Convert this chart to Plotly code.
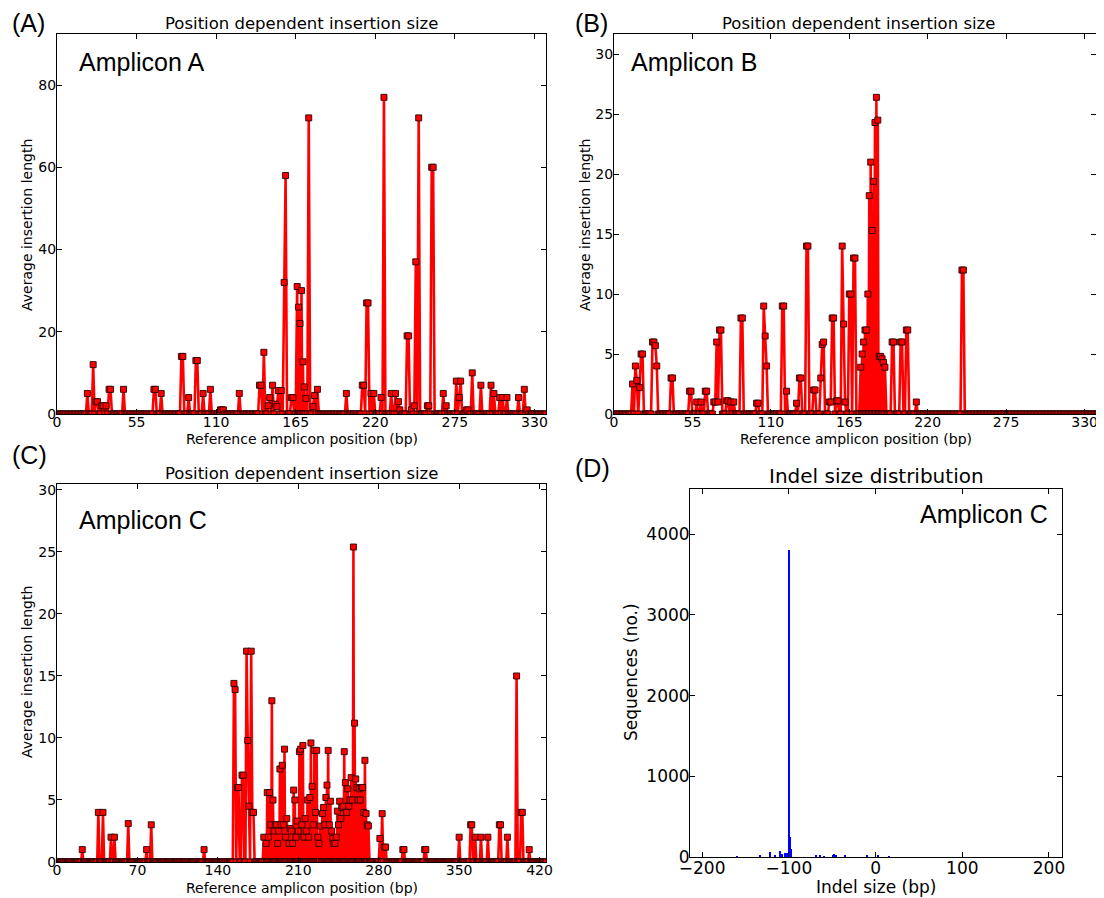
import plotly.graph_objects as go

# The page body has an 8 px margin; the figure is placed to compensate for it.
OFF = 8
W, H = 1104 - OFF, 898 - OFF

# ---------------- Data ----------------
# Panel A: amplicon A, positions with non-zero average insertion length
a_length = 338
a_pos = [21, 25, 27, 28, 31, 32, 34, 36, 37, 46, 67, 68, 72, 86, 87, 91, 96, 97, 101, 106,
         113, 114, 115, 126, 140, 141, 143, 146, 147, 149, 151, 152, 153, 155, 157, 158,
         162, 163, 166, 167, 168, 169, 170, 171, 172, 174, 177, 178, 180, 200, 211, 212,
         214, 215, 217, 219, 224, 226, 231, 234, 236, 237, 242, 243, 245, 247, 248, 250,
         256, 257, 259, 260, 267, 269, 276, 278, 279, 283, 284, 287, 293, 300, 302, 306,
         308, 311, 319, 323, 325]
a_val = [5, 12, 3, 3, 2, 2, 2, 6, 6, 6, 6, 6, 5, 14, 14, 4, 13, 13, 5, 6,
         1, 1, 1, 5, 7, 7, 15, 2, 4, 7, 2.4, 1.8, 5.7, 5.7, 32, 58,
         4, 4, 31, 26, 22, 30, 12.7, 6.6, 3.8, 72, 1.8, 4.5, 6, 5, 7, 7,
         27, 27, 5, 5, 4, 77, 5, 5, 3, 1, 19, 19, 1, 2, 37, 72,
         2, 2, 60, 60, 5, 2, 8, 4, 8, 1, 1, 10, 7, 7, 5, 4,
         4, 4, 4, 6, 1]
# points inside the dense cluster where the trace drops back to the baseline
a_drop_pos = [166.5, 167.5, 168.5, 169.5, 170.5, 171.5]

# Panel B: amplicon B
b_length = 341
b_pos = [13, 15, 16, 18, 19, 20, 27, 28, 29, 30, 40, 41, 53, 54, 58, 61, 64, 65, 70, 71,
         72, 73, 74, 75, 79, 80, 82, 84, 89, 90, 100, 101, 105, 106, 107, 118, 119, 121,
         128, 130, 131, 135, 136, 140, 141, 145, 146, 147, 151, 152, 153, 154, 156, 157,
         160, 161, 162, 165, 166, 168, 169, 173, 174, 175, 176, 177, 178, 179, 180, 181,
         182, 183, 184, 185, 186, 187, 188, 189, 190, 195, 196, 201, 202, 205, 206, 212,
         244, 245]
b_val = [2.5, 4, 2.8, 2.2, 5, 5, 6, 6, 5.7, 4, 3, 3, 1.9, 1.9, 1, 1, 1.9, 1.9, 1, 1,
         6, 1, 7, 7, 1.1, 1.1, 1, 1, 8, 8, 0.9, 0.9, 9, 6.5, 4, 9, 9, 1.9,
         0.9, 3, 3, 14, 14, 2, 2, 3, 5.8, 6, 1, 1, 8, 8, 1.1, 1.1,
         14, 7.5, 1, 10, 10, 13, 13, 3.9, 5, 6, 7, 7, 10, 18.2, 21, 15.3,
         19.4, 24.3, 26.4, 24.5, 4.8, 4.8, 4.6, 4.3, 3.9, 6, 6, 6, 6, 7, 7, 1,
         12, 12]
b_drop_pos = [173.5, 174.5, 175.5, 176.5, 177.5, 178.5, 179.5, 180.5, 181.5, 182.5,
              183.5, 184.5, 185.5, 186.5, 187.5, 188.5, 189.5]

# Panel C: amplicon C
c_length = 426
c_pos = [22, 36, 40, 47, 50, 62, 78, 82, 128, 154, 155, 157, 158, 161, 162, 165, 166, 167,
         169, 170, 171,
         180, 182, 183, 184, 185, 186, 187, 188, 189, 190, 191, 192, 193, 194, 195, 196, 197,
         198, 199, 200, 202, 203, 204, 205, 206, 207, 208, 209, 210, 211, 212, 213, 214, 215,
         216, 217, 218, 219, 220, 221, 222, 223, 224, 225, 226, 227, 228, 229, 231, 232, 233,
         234, 235, 236, 237, 238, 239, 240, 241, 242, 243, 244, 245, 246, 247, 248, 249, 250,
         251, 252, 253, 254, 255, 256, 257, 258, 259, 260, 261, 262, 263, 264, 265, 266, 267,
         268, 269, 270, 271,
         281, 283, 285, 286, 301, 302, 320, 321, 350, 360, 361, 364, 369, 375, 385, 386, 392,
         400, 404, 405, 411]
c_val = [1, 4, 4, 2, 2, 3.1, 1, 3, 1, 14.4, 13.9, 6, 6, 7, 7, 17, 9.8, 4.5,
         17, 4, 4,
         2, 1.5, 5.6, 2, 5.6, 3, 13, 5, 2.5, 3, 3, 1.5, 2.5, 7.5, 3, 7.8, 3,
         9.1, 2, 3.5, 1.5, 2.7, 2.5, 1.5, 5.8, 5, 2, 3.3, 2.5, 8.9, 9.1, 3, 9.4, 2,
         3.5, 2.5, 5, 2, 5.2, 9.6, 6.1, 3, 9, 4, 9, 2, 1.5, 2.9, 3.9, 4.4, 3,
         5.2, 6.2, 9, 3, 4.9, 2.5, 1.9, 1.5, 1.5, 2, 4.1, 3, 4.9, 3.5, 4.4, 4.5, 8.9,
         6.4, 4, 5.9, 4.5, 5, 6.8, 5, 25.4, 11.2, 6.7, 6, 5, 5.9, 5, 6, 6, 4,
         8.2, 3.9, 3, 2.9,
         1.9, 3.9, 1.2, 1.2, 1, 1, 1, 1, 2, 3, 3, 2, 2, 2, 3, 3, 2,
         15, 4, 4, 1]
c_drop_pos = [182.5, 183.5, 184.5, 185.5, 186.5, 187.5, 188.5, 189.5, 190.5, 191.5,
              192.5, 193.5, 194.5, 195.5, 196.5, 197.5, 198.5, 199.5,
              202.5, 203.5, 204.5, 205.5, 206.5, 207.5, 208.5, 209.5, 210.5, 211.5,
              212.5, 213.5, 214.5, 215.5, 216.5, 217.5, 218.5, 219.5, 220.5, 221.5,
              222.5, 223.5, 224.5, 225.5, 226.5, 227.5, 228.5,
              231.5, 232.5, 233.5, 234.5, 235.5, 236.5, 237.5, 238.5, 239.5, 240.5,
              241.5, 242.5, 243.5, 244.5, 245.5, 246.5, 247.5, 248.5, 249.5, 250.5,
              251.5, 252.5, 253.5, 254.5, 255.5, 256.5, 257.5, 258.5, 259.5, 260.5,
              261.5, 262.5, 263.5, 264.5, 265.5, 266.5, 267.5, 268.5, 269.5, 270.5]

# Panel D: indel size distribution (amplicon C)
d_sizes = [-160, -133, -122, -116, -110, -108, -104, -102, -100, -99, -98,
           -69, -64, -59, -49, -48, -46, -35, -10, 0, 3, 15]
d_counts = [5, 30, 60, 25, 70, 40, 45, 50, 3800, 250, 100,
            15, 15, 10, 30, 40, 25, 15, 15, 25, 20, 8]

x_ticks_ab = [0, 55, 110, 165, 220, 275, 330]
x_ticks_c = [0, 70, 140, 210, 280, 350, 420]
y_ticks_a = [0, 20, 40, 60, 80]
y_ticks_bc = [0, 5, 10, 15, 20, 25, 30]
x_ticks_d = [-200, -100, 0, 100, 200]
y_ticks_d = [0, 1000, 2000, 3000, 4000]


def build_series(length, pos, val, drops):
    pts = {float(i): 0.0 for i in range(length + 1)}
    for p in drops:
        pts[float(p)] = 0.0
    for p, v in zip(pos, val):
        pts[float(p)] = float(v)
    xs = sorted(pts)
    return xs, [pts[x] for x in xs]


def px(x):
    return (x - OFF) / W


def py(y):
    return 1 - (y - OFF) / H


RED = "#ff0000"
TXT = "DejaVu Sans"
ARIAL = "Liberation Sans"

fig = go.Figure()

for (length, pos, val, drops), ax in [((a_length, a_pos, a_val, a_drop_pos), ("x", "y")),
                                      ((b_length, b_pos, b_val, b_drop_pos), ("x2", "y2")),
                                      ((c_length, c_pos, c_val, c_drop_pos), ("x3", "y3"))]:
    xs, ys = build_series(length, pos, val, drops)
    fig.add_trace(go.Scatter(
        x=xs, y=ys, xaxis=ax[0], yaxis=ax[1], mode="lines+markers",
        line=dict(color=RED, width=2.6),
        marker=dict(symbol="square", size=6, color=RED,
                    line=dict(color="#2a0000", width=0.9)),
        showlegend=False, hoverinfo="skip"))

fig.add_trace(go.Bar(
    x=d_sizes, y=d_counts, xaxis="x4", yaxis="y4", width=1,
    marker=dict(color="#0000ff", line=dict(width=0)),
    showlegend=False, hoverinfo="skip"))

axis_common = dict(showline=True, linecolor="black", linewidth=1, mirror="ticks",
                   ticks="inside", ticklen=5, tickwidth=1, tickcolor="black",
                   showgrid=False, zeroline=False, automargin=False,
                   color="black")

# plot areas in pixel coordinates of the window: (left, right, top, bottom)
areas = {
    "A": (57, 546, 34, 414),
    "B": (614, 1096, 34, 414),
    "C": (57, 546, 484, 862),
    "D": (690, 1062, 489, 857),
}


def dom(area):
    l, r, t, b = area
    return [px(l), px(r)], [py(b), py(t)]


xa, ya = dom(areas["A"])
xb, yb = dom(areas["B"])
xc, yc = dom(areas["C"])
xd, yd = dom(areas["D"])

tf = dict(family=TXT, size=14, color="black")
tfd = dict(family=TXT, size=17, color="black")

fig.update_layout(
    width=W, height=H, margin=dict(l=0, r=0, t=0, b=0),
    paper_bgcolor="white", plot_bgcolor="white", template="none",
    bargap=0, showlegend=False,
    xaxis=dict(domain=xa, range=[0, 338], tickvals=x_ticks_ab, anchor="y",
               tickfont=tf, ticklabelstandoff=-5, **axis_common),
    yaxis=dict(domain=ya, range=[0, 92.4], tickvals=y_ticks_a, anchor="x",
               tickfont=tf, ticklabelstandoff=-3, **axis_common),
    xaxis2=dict(domain=xb, range=[0, 338], tickvals=x_ticks_ab, anchor="y2",
                tickfont=tf, ticklabelstandoff=-5, **axis_common),
    yaxis2=dict(domain=yb, range=[0, 31.68], tickvals=y_ticks_bc, anchor="x2",
                tickfont=tf, ticklabelstandoff=-3, **axis_common),
    xaxis3=dict(domain=xc, range=[0, 425.6], tickvals=x_ticks_c, anchor="y3",
                tickfont=tf, ticklabelstandoff=-5, **axis_common),
    yaxis3=dict(domain=yc, range=[0, 30.48], tickvals=y_ticks_bc, anchor="x3",
                tickfont=tf, ticklabelstandoff=-3, **axis_common),
    xaxis4=dict(domain=xd, range=[-214, 215], tickvals=x_ticks_d, anchor="y4",
                tickfont=tfd, ticklabelstandoff=-4, **axis_common),
    yaxis4=dict(domain=yd, range=[0, 4560], tickvals=y_ticks_d, anchor="x4",
                tickfont=tfd, ticklabelstandoff=-4, **axis_common),
)

ann = []


def add_text(text, x, y, size, family=TXT, xanchor="center", yanchor="middle", angle=0):
    ann.append(dict(text=text, x=px(x), y=py(y), xref="paper", yref="paper",
                    xanchor=xanchor, yanchor=yanchor, showarrow=False, textangle=angle,
                    font=dict(family=family, size=size, color="black")))


# panel labels
add_text("(A)", 10, 23, 25, ARIAL, xanchor="left")
add_text("(B)", 573, 23, 25, ARIAL, xanchor="left")
add_text("(C)", 10, 455, 25, ARIAL, xanchor="left")
add_text("(D)", 573, 468, 25, ARIAL, xanchor="left")

# titles
add_text("Position dependent insertion size", 301.5, 35, 16.5, yanchor="bottom")
add_text("Position dependent insertion size", 858.5, 35, 16.5, yanchor="bottom")
add_text("Position dependent insertion size", 301.5, 485, 16.5, yanchor="bottom")
add_text("Indel size distribution", 876, 490, 20, yanchor="bottom")

# x-axis titles
add_text("Reference amplicon position (bp)", 301.5, 439, 14)
add_text("Reference amplicon position (bp)", 856, 439, 14)
add_text("Reference amplicon position (bp)", 301.5, 888, 14)
add_text("Indel size (bp)", 876, 887, 17)

# y-axis titles
add_text("Average insertion length", 27, 225, 14, angle=-90)
add_text("Average insertion length", 585, 225, 14, angle=-90)
add_text("Average insertion length", 27, 672, 14, angle=-90)
add_text("Sequences (no.)", 631, 672, 17, angle=-90)

# amplicon labels
add_text("Amplicon A", 77, 62, 25, ARIAL, xanchor="left")
add_text("Amplicon B", 629, 62, 25, ARIAL, xanchor="left")
add_text("Amplicon C", 77, 520, 25, ARIAL, xanchor="left")
add_text("Amplicon C", 1050, 514, 25, ARIAL, xanchor="right")

fig.update_layout(annotations=ann)

fig.write_html("out.html", default_width="%dpx" % W, default_height="%dpx" % H)
